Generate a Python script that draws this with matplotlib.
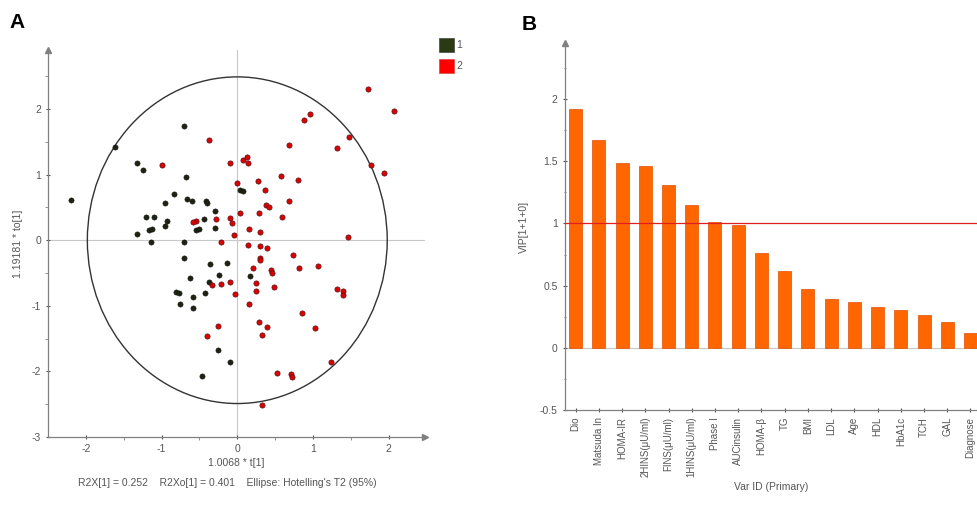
import matplotlib
matplotlib.use("Agg")
import matplotlib.pyplot as plt
from matplotlib.patches import Ellipse

plt.rcParams['font.family'] = ['Liberation Sans', 'DejaVu Sans']
plt.rcParams['axes.unicode_minus'] = False

# score plot, class 1
t1_g1 = [-2.2, -1.62, -0.70, -1.32, -1.25, -0.68, -0.84, -0.95, -0.66, -0.60,
         -0.41, -0.40, -0.30, -1.21, -1.10, -0.93, -0.96, -0.44, -0.29, -0.55,
         -0.51, -1.17, -1.13, -1.32, -1.14, -0.70, 0.04, 0.075, -0.70, -0.36,
         -0.14, -0.62, -0.24, 0.17, -0.38, -0.42, -0.81, -0.77, -0.59, -0.75,
         -0.58, -0.26, -0.09, -0.47]
to1_g1 = [0.62, 1.42, 1.74, 1.17, 1.07, 0.97, 0.70, 0.57, 0.63, 0.60,
          0.60, 0.57, 0.44, 0.35, 0.36, 0.30, 0.22, 0.33, 0.19, 0.15,
          0.17, 0.15, 0.17, 0.09, -0.02, -0.02, 0.76, 0.75, -0.27, -0.36,
          -0.35, -0.57, -0.53, -0.55, -0.64, -0.80, -0.79, -0.81, -0.86, -0.97,
          -1.04, -1.67, -1.85, -2.07]

# score plot, class 2
t1_g2 = [1.72, 2.07, 0.88, 0.96, -0.37, 1.47, 1.32, 0.68, -0.99, -0.09,
         0.08, 0.13, 0.145, 1.77, 1.94, 0.58, 0.80, 0.27, 0.0, 0.37,
         0.68, 0.38, 0.42, 0.29, 0.03, 0.59, -0.09, -0.28, -0.54, -0.58,
         -0.07, 0.15, 0.30, -0.04, 1.46, -0.22, 0.145, 0.30, 0.39, 0.74,
         0.30, 0.30, 0.21, 0.44, 0.46, 0.81, 1.07, -0.10, -0.33, -0.22,
         0.25, 0.25, 0.49, -0.03, 1.32, 1.39, 1.40, 0.15, 0.85, 0.29,
         0.39, 1.02, -0.25, -0.40, 0.33, 1.24, 0.53, 0.71, 0.72, 0.33]
to1_g2 = [2.30, 1.97, 1.84, 1.92, 1.53, 1.57, 1.40, 1.45, 1.15, 1.17,
          1.23, 1.27, 1.18, 1.15, 1.02, 0.98, 0.92, 0.91, 0.87, 0.77,
          0.60, 0.54, 0.51, 0.42, 0.41, 0.35, 0.34, 0.32, 0.30, 0.27,
          0.26, 0.17, 0.12, 0.08, 0.05, -0.02, -0.07, -0.09, -0.12, -0.23,
          -0.27, -0.30, -0.43, -0.46, -0.50, -0.43, -0.40, -0.64, -0.68, -0.67,
          -0.65, -0.77, -0.72, -0.82, -0.75, -0.78, -0.84, -0.97, -1.11, -1.25,
          -1.33, -1.34, -1.31, -1.46, -1.44, -1.85, -2.03, -2.04, -2.09, -2.51]

# VIP plot
var_names = ['Dio', 'Matsuda In', 'HOMA-IR', '2HINS(\u03bcU/ml)', 'FINS(\u03bcU/ml)',
             '1HINS(\u03bcU/ml)', 'Phase I', 'AUCinsulin', 'HOMA-\u03b2', 'TG', 'BMI',
             'LDL', 'Age', 'HDL', 'HbA1c', 'TCH', 'GAL', 'Diagnose']
vip = [1.92, 1.67, 1.49, 1.46, 1.31, 1.15, 1.01, 0.99, 0.76, 0.62, 0.475,
       0.39, 0.37, 0.325, 0.30, 0.26, 0.21, 0.12]

axis_grey = '#808080'
text_grey = '#555555'

fig = plt.figure(figsize=(9.77, 5.08), dpi=100)

# ---------- panel A ----------
ax = fig.add_axes([0.0491, 0.1398, 0.386, 0.7618])
ax.set_xlim(-2.5, 2.48)
ax.set_ylim(-3, 2.9)
ax.axhline(0, color='#c8c8c8', lw=0.8, zorder=1)
ax.axvline(0, color='#c8c8c8', lw=0.8, zorder=1)
ax.add_patch(Ellipse((0, 0), 2 * 1.98, 2 * 2.49, fill=False, ec='#333333', lw=1.0, zorder=2))
ax.scatter(t1_g1, to1_g1, s=14, c='#1c2410', edgecolors='#111111', lw=0.4, zorder=3)
ax.scatter(t1_g2, to1_g2, s=14, c='#dd0000', edgecolors='#551010', lw=0.5, zorder=3)

for s in ['top', 'right']:
    ax.spines[s].set_visible(False)
for s in ['left', 'bottom']:
    ax.spines[s].set_color(axis_grey)
    ax.spines[s].set_linewidth(0.9)
ax.plot(1, 0, '>', transform=ax.transAxes, color=axis_grey, ms=5, clip_on=False)
ax.plot(0, 1, '^', transform=ax.transAxes, color=axis_grey, ms=5, clip_on=False)

ax.set_xticks([-2, -1, 0, 1, 2])
ax.set_yticks([-3, -2, -1, 0, 1, 2])
ax.set_xticks([-1.5, -0.5, 0.5, 1.5], minor=True)
ax.set_yticks([-2.5, -1.5, -0.5, 0.5, 1.5, 2.5], minor=True)
ax.tick_params(colors=text_grey, labelsize=7.5, length=3, width=0.8)
ax.tick_params(which='minor', length=2, color=axis_grey)
ax.tick_params(axis='x', direction='inout')
ax.tick_params(axis='y', direction='inout')
ax.set_xlabel('1.0068 * t[1]', fontsize=7.5, color=text_grey, labelpad=3)
ax.set_ylabel('1.19181 * to[1]', fontsize=7.5, color=text_grey, labelpad=6)
fig.text(0.233, 0.049, "R2X[1] = 0.252    R2Xo[1] = 0.401    Ellipse: Hotelling's T2 (95%)",
         ha='center', va='center', fontsize=7.5, color=text_grey)

# legend
fig.patches.append(plt.Rectangle((0.449, 0.898), 0.0155, 0.027, transform=fig.transFigure,
                                 fc='#2a3a12', ec='#444444', lw=0.5))
fig.patches.append(plt.Rectangle((0.449, 0.857), 0.0155, 0.027, transform=fig.transFigure,
                                 fc='#ff0000', ec='#dd4444', lw=0.5))
fig.text(0.467, 0.911, '1', fontsize=7.5, color=text_grey, va='center')
fig.text(0.467, 0.870, '2', fontsize=7.5, color=text_grey, va='center')

fig.text(0.010, 0.955, 'A', fontsize=15, fontweight='bold', va='center')
fig.text(0.534, 0.951, 'B', fontsize=15, fontweight='bold', va='center')

# ---------- panel B ----------
bx = fig.add_axes([0.578, 0.193, 0.422, 0.722])
pos = list(range(len(vip)))
bx.set_xlim(-0.47, 17.28)
bx.set_ylim(-0.5, 2.45)
bx.axhline(0, color='#c8c8c8', lw=0.8, zorder=1)
bx.bar(pos, vip, width=0.56, color='#ff6600', edgecolor='#e05000', lw=0.5, zorder=2)
bx.axhline(1, color='#e02020', lw=0.9, zorder=3)

for s in ['top', 'right']:
    bx.spines[s].set_visible(False)
for s in ['left', 'bottom']:
    bx.spines[s].set_color(axis_grey)
    bx.spines[s].set_linewidth(0.9)
bx.plot(0, 1, '^', transform=bx.transAxes, color=axis_grey, ms=5, clip_on=False)

bx.set_xticks(pos)
bx.set_xticklabels(var_names, rotation=90, fontsize=7)
bx.set_yticks([-0.5, 0, 0.5, 1, 1.5, 2])
bx.set_yticklabels(['-0.5', '0', '0.5', '1', '1.5', '2'])
bx.set_yticks([-0.25, 0.25, 0.75, 1.25, 1.75, 2.25], minor=True)
bx.tick_params(colors=text_grey, labelsize=7.5, length=3, width=0.8, direction='inout')
bx.tick_params(axis='x', labelsize=7)
bx.tick_params(which='minor', length=2, color=axis_grey, direction='inout')
bx.set_xlabel('Var ID (Primary)', fontsize=7.5, color=text_grey, labelpad=3)
bx.set_ylabel('VIP[1+1+0]', fontsize=7.5, color=text_grey, labelpad=8)

fig.savefig('out.png', dpi=100)
